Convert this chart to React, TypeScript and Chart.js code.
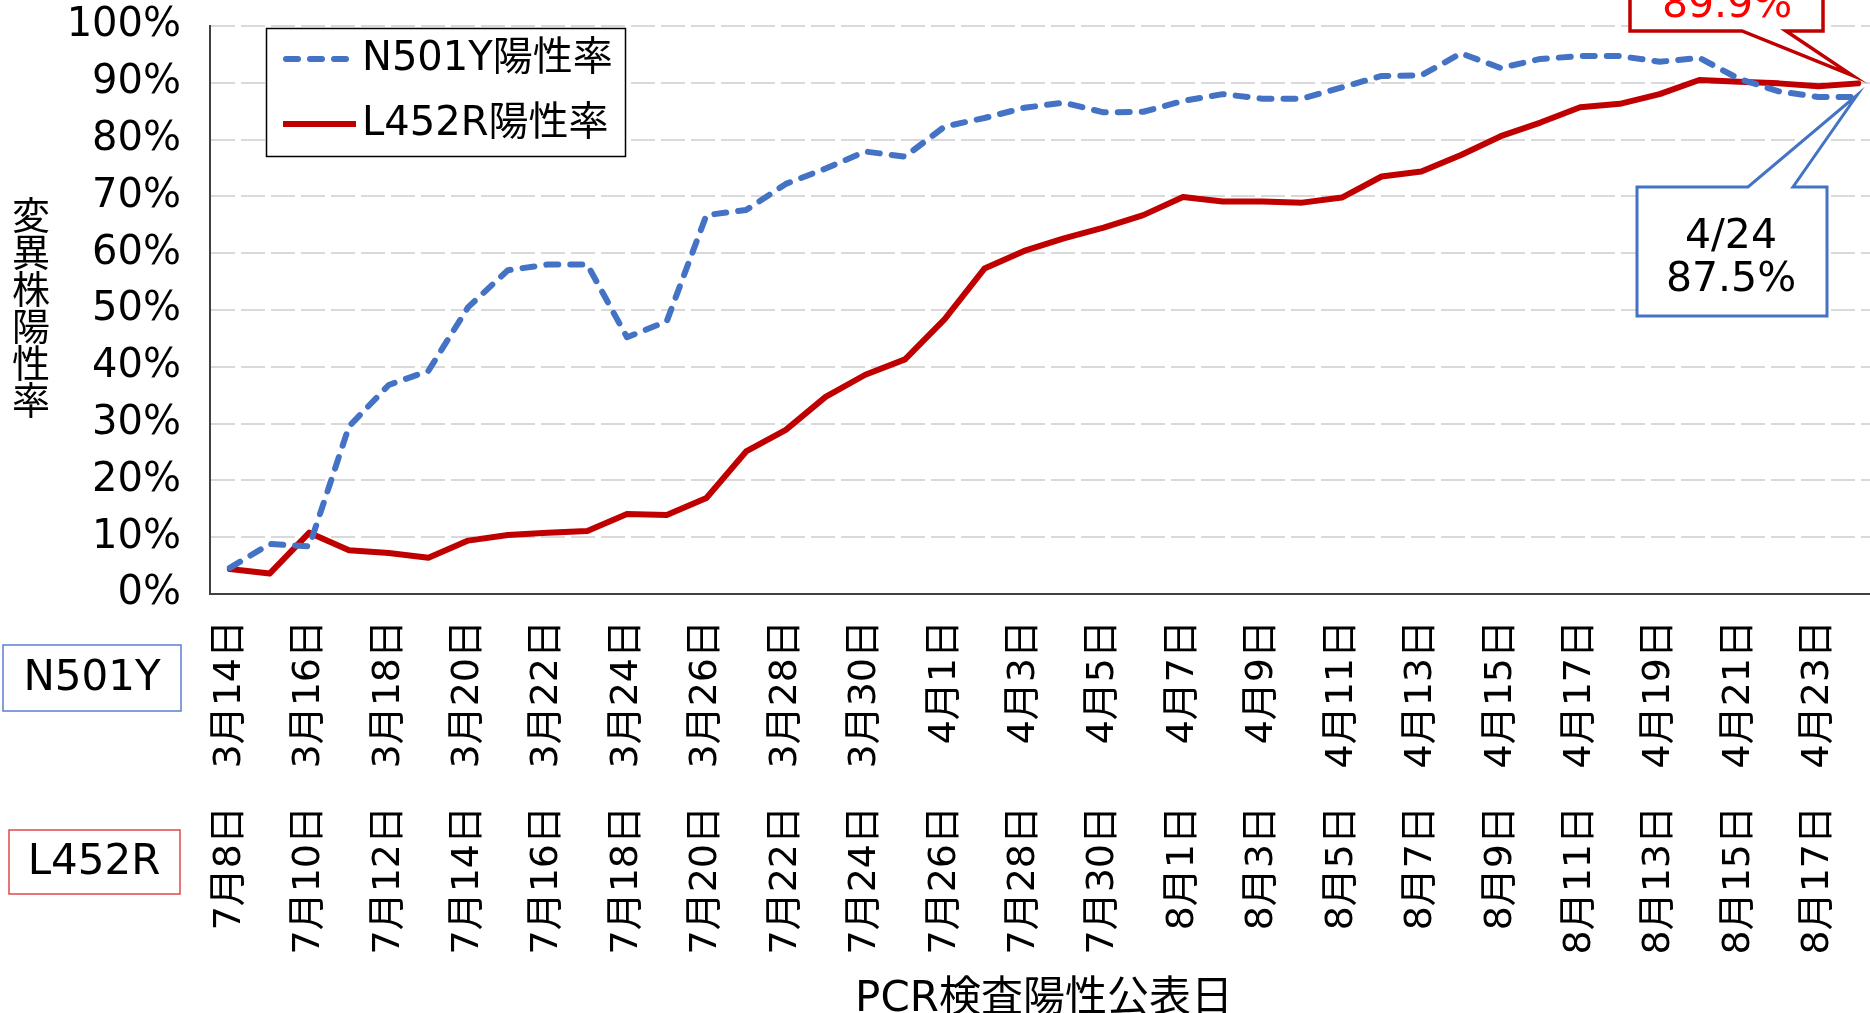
import React, { useEffect, useRef } from 'react';
import { Chart, registerables } from 'chart.js';

Chart.register(...registerables);

// ---- data ----
const n501yDates = [
  '3月14日', '3月15日', '3月16日', '3月17日', '3月18日', '3月19日', '3月20日', '3月21日', '3月22日',
  '3月23日', '3月24日', '3月25日', '3月26日', '3月27日', '3月28日', '3月29日', '3月30日', '3月31日',
  '4月1日', '4月2日', '4月3日', '4月4日', '4月5日', '4月6日', '4月7日', '4月8日', '4月9日', '4月10日',
  '4月11日', '4月12日', '4月13日', '4月14日', '4月15日', '4月16日', '4月17日', '4月18日', '4月19日',
  '4月20日', '4月21日', '4月22日', '4月23日', '4月24日',
];
const l452rDates = [
  '7月8日', '7月9日', '7月10日', '7月11日', '7月12日', '7月13日', '7月14日', '7月15日', '7月16日',
  '7月17日', '7月18日', '7月19日', '7月20日', '7月21日', '7月22日', '7月23日', '7月24日', '7月25日',
  '7月26日', '7月27日', '7月28日', '7月29日', '7月30日', '7月31日', '8月1日', '8月2日', '8月3日',
  '8月4日', '8月5日', '8月6日', '8月7日', '8月8日', '8月9日', '8月10日', '8月11日', '8月12日',
  '8月13日', '8月14日', '8月15日', '8月16日', '8月17日', '8月18日',
];
const n501yRate = [
  4.6, 8.8, 8.4, 29.5, 36.8, 39.3, 50.5, 57.0, 58.0, 58.0, 45.2, 48.0, 66.7, 67.6, 72.2, 74.9, 77.9,
  77.0, 82.3, 83.8, 85.6, 86.5, 84.8, 84.9, 86.8, 88.0, 87.2, 87.2, 89.2, 91.2, 91.3, 95.2, 92.6, 94.2,
  94.7, 94.7, 93.7, 94.4, 90.7, 88.5, 87.5, 87.5,
];
const l452rRate = [
  4.4, 3.6, 10.8, 7.7, 7.2, 6.4, 9.4, 10.4, 10.8, 11.1, 14.1, 13.9, 16.9, 25.1, 28.9, 34.7, 38.6,
  41.3, 48.4, 57.3, 60.4, 62.6, 64.5, 66.7, 69.9, 69.1, 69.1, 68.9, 69.8, 73.5, 74.4, 77.3, 80.6, 83.0,
  85.7, 86.3, 88.0, 90.5, 90.2, 89.9, 89.4, 89.9,
];
const seriesNames = ['N501Y陽性率', 'L452R陽性率'];
const rowNames = ['N501Y', 'L452R'];
const yTitle = '変異株陽性率';
const xTitle = 'PCR検査陽性公表日';
const blueNote = ['4/24', '87.5%'];
const redNote = ['4/24', '89.9%'];

const FONT = "'DejaVu Sans', 'Noto Sans CJK JP', sans-serif";
const BLUE = '#4472C4';
const RED = '#C00000';
const AXIS = '#404040';

function calloutPath(ctx, l, t, r, b, edge, x1, x2, tx, ty) {
  ctx.beginPath();
  if (edge === 'bottom') {
    ctx.moveTo(l, t);
    ctx.lineTo(r, t);
    ctx.lineTo(r, b);
    ctx.lineTo(x2, b);
    ctx.lineTo(tx, ty);
    ctx.lineTo(x1, b);
    ctx.lineTo(l, b);
  } else {
    ctx.moveTo(l, t);
    ctx.lineTo(x1, t);
    ctx.lineTo(tx, ty);
    ctx.lineTo(x2, t);
    ctx.lineTo(r, t);
    ctx.lineTo(r, b);
    ctx.lineTo(l, b);
  }
  ctx.closePath();
}

const decorPlugin = {
  id: 'decor',
  afterDraw(chart) {
    const ctx = chart.ctx;
    const xs = chart.scales.x;
    const ys = chart.scales.y;
    const last = n501yRate.length - 1;
    const lx = xs.getPixelForValue(last);
    ctx.save();

    // y-axis title, stacked upright characters
    ctx.fillStyle = '#000';
    ctx.font = `38px ${FONT}`;
    ctx.textAlign = 'center';
    ctx.textBaseline = 'middle';
    Array.from(yTitle).forEach((ch, i) => ctx.fillText(ch, 31, 219 + i * 37));

    // red callout (top, partly cut)
    const rTipX = lx - 6;
    const rTipY = ys.getPixelForValue(l452rRate[last]) - 8;
    calloutPath(ctx, 1630, -70, 1823, 31, 'bottom', 1742, 1786, rTipX, rTipY);
    ctx.fillStyle = '#fff';
    ctx.fill();
    ctx.strokeStyle = RED;
    ctx.lineWidth = 3.5;
    ctx.lineJoin = 'miter';
    ctx.stroke();
    ctx.fillStyle = '#FF0000';
    ctx.font = `41px ${FONT}`;
    ctx.textAlign = 'center';
    ctx.textBaseline = 'alphabetic';
    ctx.fillText(redNote[0], 1727, -26);
    ctx.fillText(redNote[1], 1727, 17);

    // blue callout
    const bTipX = lx - 1;
    const bTipY = ys.getPixelForValue(n501yRate[last]) - 2;
    calloutPath(ctx, 1637, 187, 1827, 316, 'top', 1748, 1793, bTipX, bTipY);
    ctx.fillStyle = '#fff';
    ctx.fill();
    ctx.strokeStyle = BLUE;
    ctx.lineWidth = 3;
    ctx.stroke();
    ctx.fillStyle = '#000';
    ctx.fillText(blueNote[0], 1731, 248);
    ctx.fillText(blueNote[1], 1731, 291);

    // legend
    ctx.fillStyle = '#fff';
    ctx.fillRect(266, 28, 359, 128);
    ctx.strokeStyle = '#000';
    ctx.lineWidth = 1.5;
    ctx.strokeRect(266.5, 28.5, 359, 128);
    chart.data.datasets.forEach((ds, i) => {
      const y = 59 + i * 65;
      ctx.save();
      ctx.strokeStyle = ds.borderColor;
      ctx.lineWidth = ds.borderWidth;
      ctx.setLineDash(ds.borderDash || []);
      ctx.lineCap = ds.borderDash ? 'round' : 'butt';
      ctx.beginPath();
      if (ds.borderDash) {
        ctx.moveTo(286, y);
        ctx.lineTo(348, y);
      } else {
        ctx.moveTo(283, y);
        ctx.lineTo(356, y);
      }
      ctx.stroke();
      ctx.restore();
      ctx.fillStyle = '#000';
      ctx.font = `40px ${FONT}`;
      ctx.textAlign = 'left';
      ctx.textBaseline = 'middle';
      ctx.fillText(ds.label, 362, y + 1);
    });

    // row label boxes
    ctx.lineWidth = 1.5;
    ctx.strokeStyle = '#5B7FD0';
    ctx.strokeRect(3, 645, 178, 66);
    ctx.strokeStyle = '#E04848';
    ctx.strokeRect(9, 830, 171, 64);
    ctx.fillStyle = '#000';
    ctx.font = `42px ${FONT}`;
    ctx.textAlign = 'center';
    ctx.textBaseline = 'middle';
    ctx.fillText(rowNames[0], 92, 679);
    ctx.fillText(rowNames[1], 94, 863);

    ctx.restore();
  },
};

const zeroPad = (s) => {
  s.paddingLeft = 0;
  s.paddingRight = 0;
  s.paddingTop = 0;
  s.paddingBottom = 0;
};

export default function App() {
  const ref = useRef(null);

  useEffect(() => {
    const canvas = ref.current;
    if (!canvas) return;
    const chart = new Chart(canvas, {
      type: 'line',
      data: {
        labels: n501yDates,
        datasets: [
          {
            label: seriesNames[0],
            data: n501yRate,
            borderColor: BLUE,
            backgroundColor: BLUE,
            borderWidth: 6,
            borderDash: [12, 12],
            borderCapStyle: 'round',
            borderJoinStyle: 'round',
            pointRadius: 0,
            tension: 0,
            fill: false,
            xAxisID: 'x',
            yAxisID: 'y',
          },
          {
            label: seriesNames[1],
            data: l452rRate,
            borderColor: RED,
            backgroundColor: RED,
            borderWidth: 6,
            borderCapStyle: 'round',
            borderJoinStyle: 'round',
            pointRadius: 0,
            tension: 0,
            fill: false,
            xAxisID: 'x',
            yAxisID: 'y',
          },
        ],
      },
      options: {
        responsive: false,
        animation: false,
        devicePixelRatio: 1,
        layout: { padding: { top: 26, left: 0, right: 2, bottom: 0 } },
        plugins: {
          legend: { display: false },
          tooltip: { enabled: false },
        },
        scales: {
          x: {
            type: 'category',
            position: 'bottom',
            offset: true,
            weight: 0,
            grid: { display: false, drawTicks: false },
            border: { display: true, color: AXIS, width: 2 },
            ticks: {
              autoSkip: false,
              minRotation: 90,
              maxRotation: 90,
              padding: 26,
              color: '#000',
              font: { family: FONT, size: 38 },
              callback: (value, index) => (index % 2 === 0 ? n501yDates[index] : ''),
            },
            afterFit: (s) => {
              s.height = 209;
              zeroPad(s);
            },
          },
          x2: {
            type: 'category',
            position: 'bottom',
            labels: l452rDates,
            offset: true,
            weight: 1,
            grid: { display: false, drawTicks: false },
            border: { display: false },
            ticks: {
              autoSkip: false,
              minRotation: 90,
              maxRotation: 90,
              padding: 3,
              color: '#000',
              font: { family: FONT, size: 38 },
              callback: (value, index) => (index % 2 === 0 ? l452rDates[index] : ''),
            },
            title: {
              display: true,
              text: xTitle,
              color: '#000',
              font: { family: FONT, size: 42, lineHeight: 0.6 },
              padding: { top: 0, bottom: 0 },
            },
            afterFit: (s) => {
              s.height = 210;
              zeroPad(s);
            },
          },
          y: {
            type: 'linear',
            position: 'left',
            min: 0,
            max: 100,
            grid: { color: '#D9D9D9', lineWidth: 2, drawTicks: false },
            border: { display: true, color: AXIS, width: 2, dash: [24, 6] },
            ticks: {
              stepSize: 10,
              padding: 29,
              color: '#000',
              font: { family: FONT, size: 40 },
              callback: (v) => `${v}%`,
            },
            afterFit: (s) => {
              s.width = 210;
              zeroPad(s);
            },
          },
        },
      },
      plugins: [decorPlugin],
    });
    return () => chart.destroy();
  }, []);

  return (
    <div
      style={{
        position: 'absolute',
        left: 0,
        top: 0,
        width: 1870,
        height: 1013,
        overflow: 'hidden',
        background: '#fff',
      }}
    >
      <canvas ref={ref} width={1880} height={1013} style={{ display: 'block', width: 1880, height: 1013 }} />
    </div>
  );
}
